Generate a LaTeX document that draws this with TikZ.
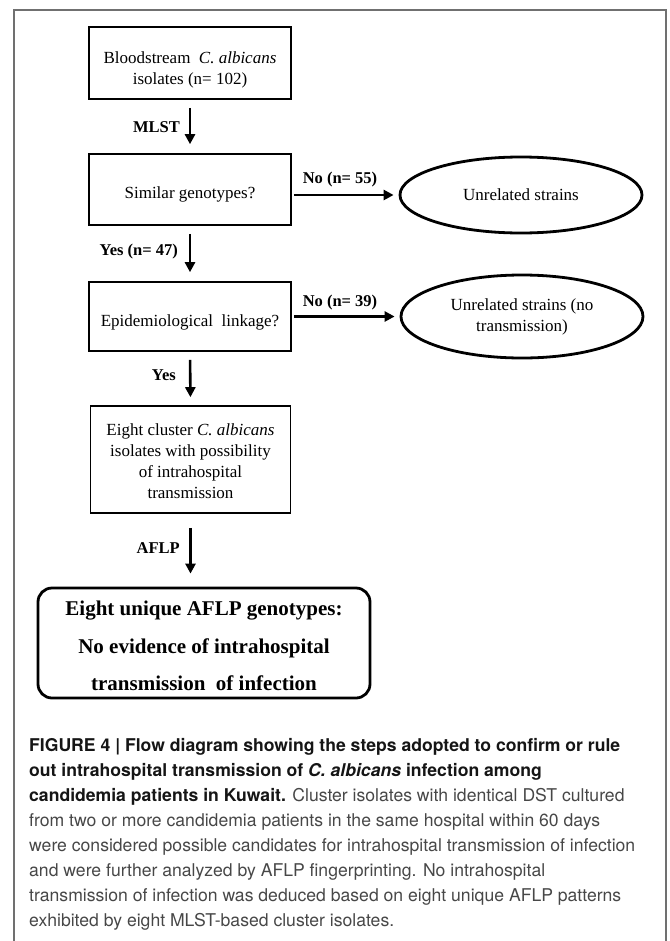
\documentclass[tikz,border=0pt]{standalone}
\usepackage{fontspec}
\setmainfont{Liberation Serif}
\newfontfamily\capfont{TeX Gyre Heros}
\usetikzlibrary{shapes.geometric,arrows.meta}
\definecolor{framegray}{HTML}{707070}
\definecolor{capgray}{HTML}{474747}
\definecolor{capdark}{HTML}{151515}
\begin{document}
\begin{tikzpicture}[x=1bp,y=-1bp,
  box/.style={draw=black, line width=1.6bp, minimum width=202bp, inner sep=0pt},
  oval/.style={ellipse, draw=black, line width=2.8bp, minimum width=242bp, minimum height=76bp, inner sep=0pt, align=center, font=\fontsize{17bp}{21bp}\selectfont},
  txt/.style={align=center, font=\fontsize{17bp}{21bp}\selectfont, inner sep=0pt},
  lab/.style={font=\bfseries\fontsize{16.5bp}{20bp}\selectfont, inner sep=0pt},
  flow/.style={line width=2.6bp, -{Triangle[length=10bp,width=10bp]}},
  framestyle/.style={draw=framegray, line width=1.3bp}
  ]
\useasboundingbox (0,0) rectangle (670,941);
\draw[framestyle] (14,950) -- (14,10) -- (666,10) -- (666,950);

% boxes
\node[box, minimum height=72bp] (b1) at (190,63) {};
\node[txt] (t1) at ([yshift=-7bp]b1.center) {Bloodstream\ \ \textit{C. albicans}\\isolates (n= 102)};
\node[box, minimum height=71bp] (b2) at (190,189.5) {};
\node[txt] (t2) at ([yshift=-5bp]b2.center) {Similar genotypes?};
\node[box, minimum height=69bp] (b3) at (190,316.5) {};
\node[txt] (t3) at ([yshift=-6bp]b3.center) {Epidemiological\ \ linkage?};
\node[box, minimum width=200bp, minimum height=107bp] (b4) at (190.5,459.5) {};
\node[txt] (t4) at ([yshift=-2bp]b4.center) {Eight cluster \textit{C. albicans}\\isolates with possibility\\of intrahospital\\transmission};
\node[draw=black, rounded corners=14bp, line width=2.8bp, minimum width=332bp, minimum height=110bp, inner sep=0pt] (b5) at (204,643) {};
\node[font=\bfseries\fontsize{21bp}{37.5bp}\selectfont, align=center, inner sep=0pt] (t5) at ([yshift=-3bp]b5.center) {Eight unique AFLP genotypes:\\No evidence of intrahospital\\transmission\ \ of infection};

% ellipses
\node[oval] (e1) at (521,195) {Unrelated strains};
\node[oval, minimum height=83bp] (e2) at (522,316.5) {Unrelated strains (no\\transmission)};

% arrows
\draw[flow, shorten <=8bp, shorten >=9bp] (b1.south) -- (b2.north);
\draw[flow, shorten <=8bp, shorten >=9bp] (b2.south) -- (b3.north);
\draw[flow, shorten <=8bp, shorten >=8bp] (b3.south) -- (b4.north);
\draw[flow, shorten <=14bp, shorten >=13bp] (b4.south) -- (b4.south |- b5.north);
\draw[flow, shorten <=2bp, shorten >=5bp] (b2.east |- e1.west) -- (e1.west);
\draw[flow, shorten <=2bp, shorten >=5bp] (b3.east |- e2.west) -- (e2.west);

% labels
\node[lab, anchor=east] (l1) at (180,127) {MLST};
\node[lab, anchor=east] (l2) at (178,252) {Yes (n= 47)};
\node[lab, anchor=east] (l3) at (176,375) {Yes};
\node[lab, anchor=east] (l4) at (180,548) {AFLP};
\node[lab] (l5) at (340,180) {No (n= 55)};
\node[lab] (l6) at (340,303) {No (n= 39)};

% caption
\node[anchor=north west, inner sep=0pt, align=left, font=\capfont\fontsize{17.6bp}{25bp}\selectfont, text=capgray] (cap) at (29,738) {%
{\color{capdark}\bfseries FIGURE 4 | Flow diagram showing the steps adopted to confirm or rule}\\
{\color{capdark}\bfseries out intrahospital transmission of \textit{C. albicans} infection among}\\
{\color{capdark}\bfseries candidemia patients in Kuwait.} Cluster isolates with identical DST cultured\\
from two or more candidemia patients in the same hospital within 60 days\\
were considered possible candidates for intrahospital transmission of infection\\
and were further analyzed by AFLP fingerprinting. No intrahospital\\
transmission of infection was deduced based on eight unique AFLP patterns\\
exhibited by eight MLST-based cluster isolates.};
\end{tikzpicture}
\end{document}
